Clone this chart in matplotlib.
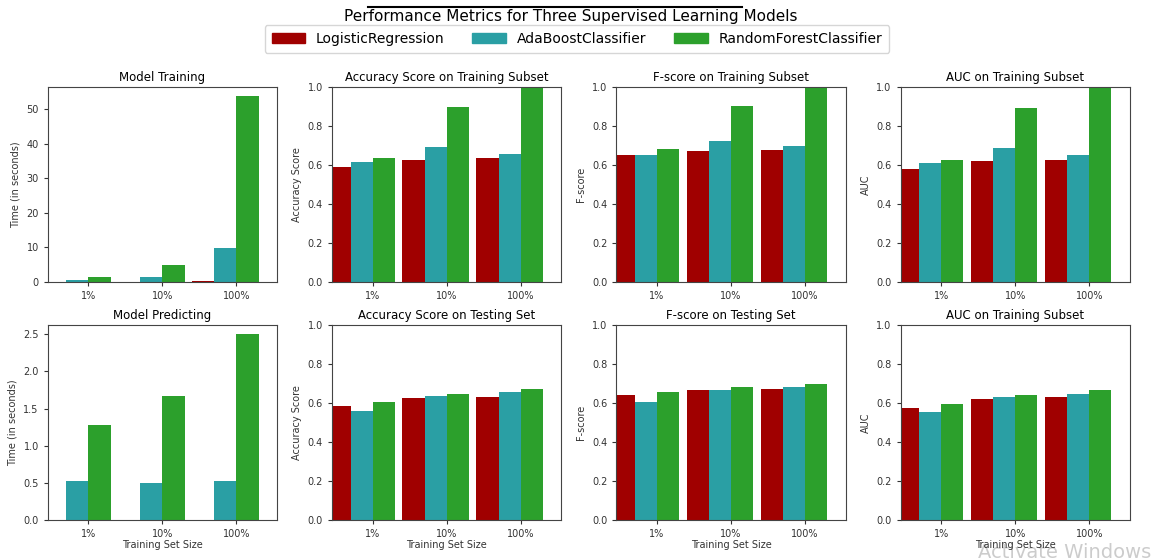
import numpy as np
import matplotlib
matplotlib.use("Agg")
import matplotlib.pyplot as plt
import matplotlib.patches as mpatches
from matplotlib.lines import Line2D

# data
sizes = ["1%", "10%", "100%"]
learners = ["LogisticRegression", "AdaBoostClassifier", "RandomForestClassifier"]
colors = ["#A00000", "#2A9FA4", "#2CA02C"]

train_time = {
    "LogisticRegression": [0.02, 0.1, 0.4],
    "AdaBoostClassifier": [0.6, 1.45, 9.9],
    "RandomForestClassifier": [1.45, 4.8, 53.8],
}
acc_train = {
    "LogisticRegression": [0.589, 0.625, 0.634],
    "AdaBoostClassifier": [0.613, 0.692, 0.656],
    "RandomForestClassifier": [0.634, 0.896, 1.0],
}
f_train = {
    "LogisticRegression": [0.651, 0.671, 0.676],
    "AdaBoostClassifier": [0.649, 0.721, 0.697],
    "RandomForestClassifier": [0.680, 0.901, 1.0],
}
auc_train = {
    "LogisticRegression": [0.579, 0.620, 0.625],
    "AdaBoostClassifier": [0.608, 0.685, 0.651],
    "RandomForestClassifier": [0.625, 0.892, 1.0],
}
pred_time = {
    "LogisticRegression": [0.003, 0.003, 0.003],
    "AdaBoostClassifier": [0.518, 0.504, 0.518],
    "RandomForestClassifier": [1.272, 1.670, 2.5],
}
acc_test = {
    "LogisticRegression": [0.584, 0.623, 0.633],
    "AdaBoostClassifier": [0.561, 0.635, 0.654],
    "RandomForestClassifier": [0.607, 0.648, 0.671],
}
f_test = {
    "LogisticRegression": [0.642, 0.664, 0.674],
    "AdaBoostClassifier": [0.606, 0.664, 0.683],
    "RandomForestClassifier": [0.654, 0.683, 0.698],
}
auc_test = {
    "LogisticRegression": [0.572, 0.618, 0.630],
    "AdaBoostClassifier": [0.556, 0.630, 0.647],
    "RandomForestClassifier": [0.597, 0.642, 0.664],
}

panels = [
    (train_time, "Model Training", "Time (in seconds)"),
    (acc_train, "Accuracy Score on Training Subset", "Accuracy Score"),
    (f_train, "F-score on Training Subset", "F-score"),
    (auc_train, "AUC on Training Subset", "AUC"),
    (pred_time, "Model Predicting", "Time (in seconds)"),
    (acc_test, "Accuracy Score on Testing Set", "Accuracy Score"),
    (f_test, "F-score on Testing Set", "F-score"),
    (auc_test, "AUC on Training Subset", "AUC"),
]

plt.rcParams["font.family"] = ["DejaVu Sans"]
plt.rcParams["axes.edgecolor"] = "#444444"

fig, ax = plt.subplots(2, 4, figsize=(11.7, 5.59), dpi=100)
fig.subplots_adjust(left=0.0408, right=0.9658, bottom=0.0698, top=0.8444,
                    wspace=0.239, hspace=0.22)

bar_width = 0.3
for j, (metric, title, ylabel) in enumerate(panels):
    a = ax[j // 4, j % 4]
    for k, learner in enumerate(learners):
        x = np.arange(3) + k * bar_width
        a.bar(x, metric[learner], width=bar_width, color=colors[k])
    a.set_xticks([0.45, 1.45, 2.45])
    a.set_xticklabels(sizes)
    a.set_xlim((-0.1, 3.0))
    a.set_title(title, fontsize=8.5, pad=4)
    a.set_ylabel(ylabel, fontsize=7, color="#333333")
    a.tick_params(labelsize=7, length=3, colors="#333333")
    if j // 4 == 1:
        a.set_xlabel("Training Set Size", fontsize=7, color="#333333", labelpad=1)
    if "Time" not in ylabel:
        a.set_ylim((0, 1))

# legend and title
patches = [mpatches.Patch(color=colors[k], label=learners[k]) for k in range(3)]
fig.legend(handles=patches, loc="upper center", bbox_to_anchor=(577 / 1170, 1 - 25 / 559),
           ncol=3, fontsize=10, borderaxespad=0., borderpad=0.5, handlelength=2.4,
           columnspacing=2.0)
fig.suptitle("Performance Metrics for Three Supervised Learning Models", fontsize=11,
             y=1 - 16 / 559, x=0.488, va="center")
fig.add_artist(Line2D([368 / 1170, 742 / 1170], [1 - 7 / 559, 1 - 7 / 559], color="black", lw=1.5))

fig.text(978 / 1170, -0.006, "Activate Windows", fontsize=14, color="#cccccc", va="bottom", zorder=-1)

plt.savefig("out.png")
